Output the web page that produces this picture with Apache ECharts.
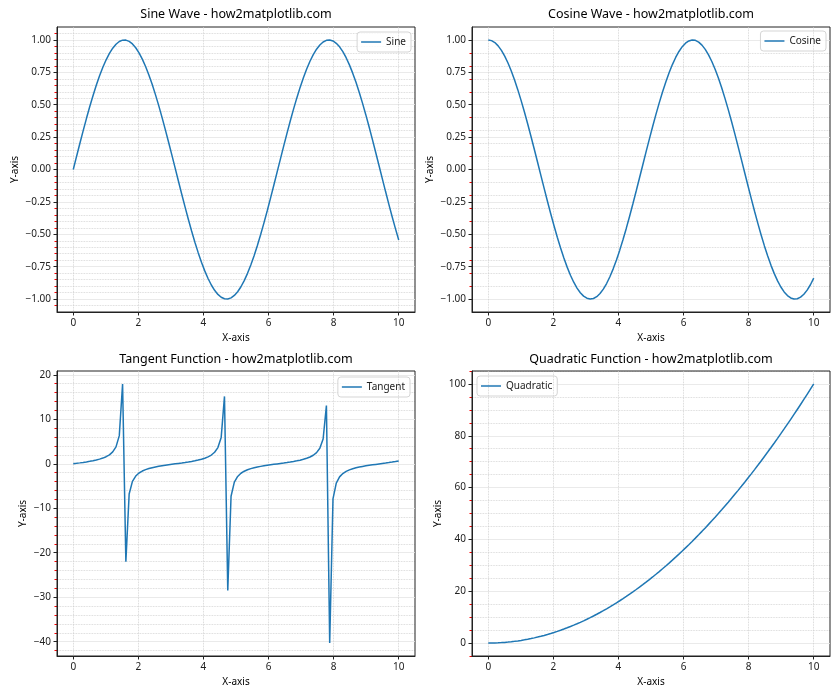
<!DOCTYPE html>
<html>
<head>
<meta charset="utf-8">
<script src="https://cdn.jsdelivr.net/npm/echarts@6.0.0/dist/echarts.min.js"></script>
<style>
html, body { margin: 0; padding: 0; background: #fff; }
#main { width: 840px; height: 700px; }
</style>
</head>
<body>
<div id="main"></div>
<script>
// 100 sample points on 0..10
var xValues = [0, 0.101, 0.202, 0.303, 0.404, 0.505, 0.606, 0.707, 0.808, 0.909,
	1.010, 1.111, 1.212, 1.313, 1.414, 1.515, 1.616, 1.717, 1.818, 1.919,
	2.020, 2.121, 2.222, 2.323, 2.424, 2.525, 2.626, 2.727, 2.828, 2.929,
	3.030, 3.131, 3.232, 3.333, 3.434, 3.535, 3.636, 3.737, 3.838, 3.939,
	4.040, 4.141, 4.242, 4.343, 4.444, 4.545, 4.646, 4.747, 4.848, 4.949,
	5.051, 5.152, 5.253, 5.354, 5.455, 5.556, 5.657, 5.758, 5.859, 5.960,
	6.061, 6.162, 6.263, 6.364, 6.465, 6.566, 6.667, 6.768, 6.869, 6.970,
	7.071, 7.172, 7.273, 7.374, 7.475, 7.576, 7.677, 7.778, 7.879, 7.980,
	8.081, 8.182, 8.283, 8.384, 8.485, 8.586, 8.687, 8.788, 8.889, 8.990,
	9.091, 9.192, 9.293, 9.394, 9.495, 9.596, 9.697, 9.798, 9.899, 10.000];
var sineValues = [0, 0.1008, 0.2006, 0.2984, 0.3931, 0.4839, 0.5696, 0.6496, 0.7230, 0.7889,
	0.8469, 0.8962, 0.9364, 0.9670, 0.9878, 0.9985, 0.9990, 0.9893, 0.9696, 0.9399,
	0.9007, 0.8523, 0.7952, 0.7300, 0.6574, 0.5781, 0.4928, 0.4026, 0.3082, 0.2107,
	0.1111, 0.0103, -0.0906, -0.1906, -0.2886, -0.3837, -0.4748, -0.5612, -0.6418, -0.7158,
	-0.7826, -0.8414, -0.8916, -0.9327, -0.9643, -0.9861, -0.9978, -0.9994, -0.9908, -0.9720,
	-0.9434, -0.9051, -0.8576, -0.8014, -0.7370, -0.6651, -0.5864, -0.5017, -0.4120, -0.3180,
	-0.2207, -0.1213, -0.0206, 0.0804, 0.1805, 0.2787, 0.3742, 0.4658, 0.5526, 0.6338,
	0.7086, 0.7761, 0.8358, 0.8869, 0.9289, 0.9615, 0.9843, 0.9971, 0.9997, 0.9921,
	0.9744, 0.9467, 0.9094, 0.8629, 0.8075, 0.7439, 0.6727, 0.5947, 0.5106, 0.4213,
	0.3277, 0.2308, 0.1315, 0.0308, -0.0701, -0.1703, -0.2688, -0.3646, -0.4566, -0.5440];
var cosineValues = [1, 0.9949, 0.9797, 0.9544, 0.9195, 0.8752, 0.8219, 0.7603, 0.6909, 0.6145,
	0.5318, 0.4437, 0.3510, 0.2548, 0.1560, 0.0556, -0.0453, -0.1459, -0.2449, -0.3414,
	-0.4344, -0.5230, -0.6063, -0.6834, -0.7536, -0.8160, -0.8701, -0.9154, -0.9513, -0.9776,
	-0.9938, -0.9999, -0.9959, -0.9817, -0.9575, -0.9235, -0.8801, -0.8277, -0.7669, -0.6983,
	-0.6225, -0.5405, -0.4529, -0.3606, -0.2648, -0.1662, -0.0659, 0.0351, 0.1357, 0.2349,
	0.3317, 0.4252, 0.5143, 0.5981, 0.6759, 0.7468, 0.8100, 0.8650, 0.9112, 0.9481,
	0.9753, 0.9926, 0.9998, 0.9968, 0.9836, 0.9604, 0.9274, 0.8849, 0.8334, 0.7735,
	0.7056, 0.6306, 0.5491, 0.4620, 0.3702, 0.2746, 0.1763, 0.0761, -0.0248, -0.1255,
	-0.2249, -0.3220, -0.4158, -0.5054, -0.5898, -0.6683, -0.7399, -0.8039, -0.8598, -0.9069,
	-0.9448, -0.9730, -0.9913, -0.9995, -0.9975, -0.9854, -0.9632, -0.9312, -0.8897, -0.8391];
var tangentValues = [0, 0.1013, 0.2048, 0.3125, 0.4273, 0.5526, 0.6930, 0.8544, 1.0460, 1.2840,
	1.594, 2.019, 2.667, 3.795, 6.331, 17.952, -22.029, -6.783, -3.959, -2.753,
	-2.073, -1.630, -1.312, -1.068, -0.872, -0.708, -0.566, -0.440, -0.324, -0.216,
	-0.112, -0.010, 0.091, 0.194, 0.301, 0.415, 0.540, 0.678, 0.837, 1.025,
	1.257, 1.557, 1.969, 2.586, 3.642, 5.935, 15.147, -28.492, -7.303, -4.138,
	-2.844, -2.129, -1.668, -1.340, -1.090, -0.891, -0.724, -0.580, -0.452, -0.335,
	-0.226, -0.122, -0.021, 0.081, 0.183, 0.290, 0.403, 0.526, 0.663, 0.819,
	1.004, 1.231, 1.522, 1.920, 2.509, 3.501, 5.584, 13.097, -40.308, -7.906,
	-4.333, -2.940, -2.187, -1.707, -1.369, -1.113, -0.909, -0.740, -0.594, -0.465,
	-0.347, -0.237, -0.133, -0.031, 0.070, 0.173, 0.279, 0.392, 0.513, 0.648];
var quadValues = [0, 0.0102, 0.0408, 0.0918, 0.1632, 0.2551, 0.3673, 0.4999, 0.6530, 0.8264,
	1.0203, 1.2346, 1.4692, 1.7243, 1.9998, 2.2957, 2.6120, 2.9487, 3.3058, 3.6833,
	4.0812, 4.4995, 4.9383, 5.3974, 5.8770, 6.3769, 6.8973, 7.4380, 7.9992, 8.5808,
	9.1827, 9.8051, 10.4479, 11.1111, 11.7947, 12.4987, 13.2231, 13.9680, 14.7332, 15.5188,
	16.3249, 17.1513, 17.9982, 18.8654, 19.7531, 20.6612, 21.5896, 22.5385, 23.5078, 24.4975,
	25.5076, 26.5381, 27.5890, 28.6603, 29.7521, 30.8642, 31.9967, 33.1497, 34.3230, 35.5168,
	36.7309, 37.9655, 39.2205, 40.4959, 41.7917, 43.1078, 44.4444, 45.8014, 47.1789, 48.5767,
	49.9949, 51.4335, 52.8926, 54.3720, 55.8718, 57.3921, 58.9328, 60.4938, 62.0753, 63.6772,
	65.2995, 66.9421, 68.6052, 70.2887, 71.9927, 73.7170, 75.4617, 77.2268, 79.0123, 80.8183,
	82.6446, 84.4914, 86.3585, 88.2461, 90.1541, 92.0824, 94.0312, 96.0004, 97.9900, 100];

// tick positions
var xTicks = [0, 2, 4, 6, 8, 10];
var waveMajor = [-1, -0.75, -0.5, -0.25, 0, 0.25, 0.5, 0.75, 1];
var sineMinor = [-1.05, -0.95, -0.9, -0.85, -0.8, -0.7, -0.65, -0.6, -0.55, -0.45, -0.4, -0.35, -0.3,
	-0.2, -0.15, -0.1, -0.05, 0.05, 0.1, 0.15, 0.2, 0.3, 0.35, 0.4, 0.45, 0.55, 0.6, 0.65, 0.7,
	0.8, 0.85, 0.9, 0.95, 1.05];
var cosineMinor = [-0.9, -0.8, -0.7, -0.6, -0.4, -0.3, -0.2, -0.1, 0.1, 0.2, 0.3, 0.4, 0.6, 0.7, 0.8, 0.9];
var tangentMajor = [-40, -30, -20, -10, 0, 10, 20];
var tangentMinor = [-42, -38, -36, -34, -32, -28, -26, -24, -22, -18, -16, -14, -12, -8, -6, -4, -2,
	2, 4, 6, 8, 12, 14, 16, 18];
var quadMajor = [0, 20, 40, 60, 80, 100];
var quadMinor = [-5, 5, 10, 15, 25, 30, 35, 45, 50, 55, 65, 70, 75, 85, 90, 95, 105];

var FONT = 'Noto Sans';
var LINE = '#1f77b4';

function pairs(xs, ys) {
	return xs.map(function (x, i) { return [x, ys[i]]; });
}
function minusSign(s) {
	return s.replace('-', '\u2212');
}
function fmt2(v) { return minusSign(v.toFixed(2)); }
function fmt0(v) { return minusSign(String(Math.round(v))); }

function xAxisFor(g) {
	return {
		type : 'value', gridIndex : g, min : -0.5, max : 10.5,
		name : 'X-axis', nameLocation : 'middle', nameGap : 21,
		nameTextStyle : { fontFamily : FONT, fontSize : 10, color : '#000' },
		axisLine : { show : true, onZero : false, lineStyle : { color : '#222', width : 1 } },
		axisTick : { show : true, length : 3.5, customValues : xTicks, lineStyle : { color : '#222' } },
		axisLabel : { customValues : xTicks, margin : 6, fontFamily : FONT, fontSize : 10, color : '#222' },
		splitLine : { show : true, lineStyle : { color : '#cccccc', width : 0.8, type : 'dotted' } },
		z : 4
	};
}
function majorY(g, min, max, ticks, gap, fmt) {
	return {
		type : 'value', gridIndex : g, position : 'left', min : min, max : max,
		name : 'Y-axis', nameLocation : 'middle', nameGap : gap,
		nameTextStyle : { fontFamily : FONT, fontSize : 10, color : '#000' },
		axisLine : { show : true, onZero : false, lineStyle : { color : '#222', width : 1 } },
		axisTick : { show : true, length : 3.5, customValues : ticks, lineStyle : { color : '#222' } },
		axisLabel : { customValues : ticks, margin : 6, fontFamily : FONT, fontSize : 10, color : '#222', formatter : fmt },
		splitLine : { show : true, lineStyle : { color : '#e4e4e4', width : 0.8 } },
		z : 3
	};
}
function minorY(g, min, max, ticks) {
	return {
		type : 'value', gridIndex : g, position : 'left', min : min, max : max,
		axisLine : { show : false, onZero : false },
		axisTick : { show : true, length : 2.5, customValues : ticks, lineStyle : { color : '#ff0000' } },
		axisLabel : { show : false, customValues : ticks },
		splitLine : { show : true, lineStyle : { color : '#cfcfcf', width : 0.8, type : 'dotted' } },
		z : 1
	};
}
function titleFor(text, cx, top) {
	return {
		text : text, left : cx, top : top, textAlign : 'center', padding : 0,
		textStyle : { fontFamily : FONT, fontSize : 12.5, fontWeight : 'normal', color : '#000' }
	};
}
function legendFor(name, pos) {
	var l = {
		data : [ name ], orient : 'vertical', icon : 'rect', itemWidth : 20, itemHeight : 1.5,
		padding : [ 4, 5, 4, 4 ], backgroundColor : 'rgba(255,255,255,0.8)',
		borderColor : '#d5d5d5', borderWidth : 1, borderRadius : 3,
		textStyle : { fontFamily : FONT, fontSize : 10, color : '#222', lineHeight : 12 }
	};
	for (var k in pos) l[k] = pos[k];
	return l;
}
function lineSeries(name, ys, g) {
	return {
		name : name, type : 'line', xAxisIndex : g, yAxisIndex : g * 2,
		data : pairs(xValues, ys), showSymbol : false, color : LINE,
		lineStyle : { color : LINE, width : 1.5 }, z : 5
	};
}

function gridAt(left, top) {
	return {
		left : left, top : top, width : 358, height : 285, z : 2,
		show : true, borderColor : '#222', borderWidth : 1, backgroundColor : 'transparent'
	};
}

var chart = echarts.init(document.getElementById('main'));
var option = {
	animation : false,
	backgroundColor : '#fff',
	title : [
		titleFor('Sine Wave - how2matplotlib.com', 236, 8),
		titleFor('Cosine Wave - how2matplotlib.com', 651, 8),
		titleFor('Tangent Function - how2matplotlib.com', 236, 353),
		titleFor('Quadratic Function - how2matplotlib.com', 651, 353)
	],
	legend : [
		legendFor('Sine', { right : 429, top : 32 }),
		legendFor('Cosine', { right : 14, top : 31 }),
		legendFor('Tangent', { right : 430, top : 377 }),
		legendFor('Quadratic', { left : 477, top : 376 })
	],
	grid : [ gridAt(57, 27), gridAt(472, 27), gridAt(57, 371), gridAt(472, 371) ],
	xAxis : [ xAxisFor(0), xAxisFor(1), xAxisFor(2), xAxisFor(3) ],
	yAxis : [
		majorY(0, -1.1, 1.1, waveMajor, 37, fmt2), minorY(0, -1.1, 1.1, sineMinor),
		majorY(1, -1.1, 1.1, waveMajor, 37, fmt2), minorY(1, -1.1, 1.1, cosineMinor),
		majorY(2, -43.22, 20.865, tangentMajor, 29, fmt0), minorY(2, -43.22, 20.865, tangentMinor),
		majorY(3, -5, 105, quadMajor, 29, fmt0), minorY(3, -5, 105, quadMinor)
	],
	series : [
		lineSeries('Sine', sineValues, 0),
		lineSeries('Cosine', cosineValues, 1),
		lineSeries('Tangent', tangentValues, 2),
		lineSeries('Quadratic', quadValues, 3)
	]
};
chart.setOption(option);
</script>
</body>
</html>
